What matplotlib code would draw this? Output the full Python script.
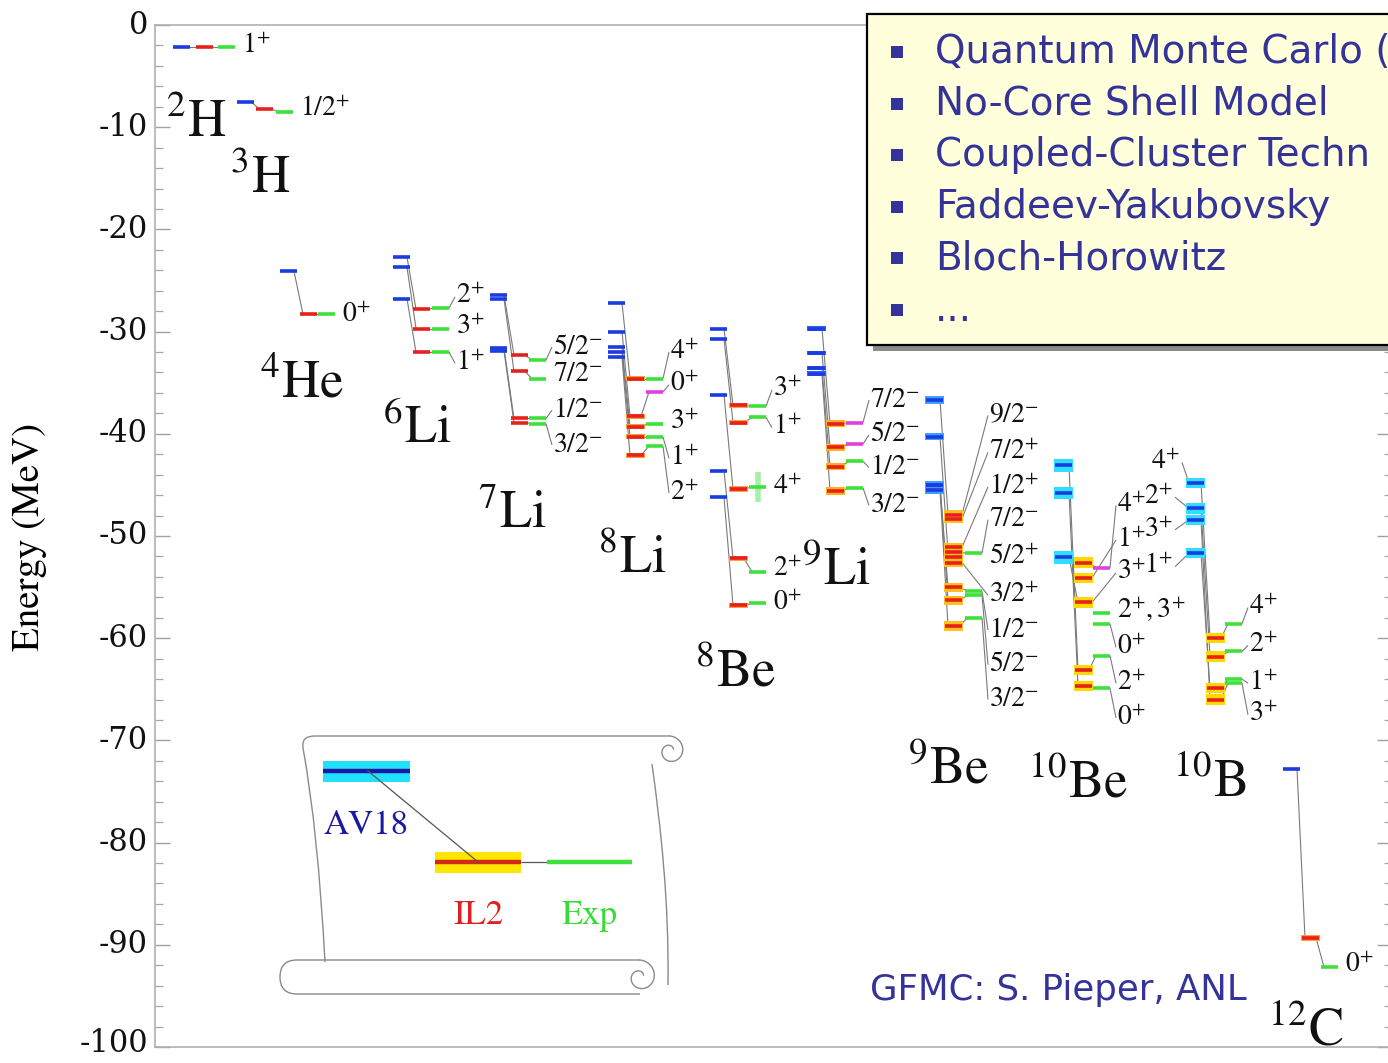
import matplotlib
matplotlib.use('Agg')
import matplotlib.pyplot as plt
from matplotlib.patches import Rectangle, PathPatch
from matplotlib.path import Path
from matplotlib.ticker import MultipleLocator
from matplotlib.transforms import offset_copy
import numpy as np

plt.rcParams['mathtext.fontset'] = 'stix'
plt.rcParams['font.family'] = ['STIXGeneral', 'DejaVu Serif']
plt.rcParams['axes.unicode_minus'] = False

# ---------------------------------------------------------------------------
# Level energies (MeV): AV18, AV18+IL2 and experiment; None = not computed/seen
# ---------------------------------------------------------------------------
H2_states = ['1^{+}']
H2_av18 = [-2.2]
H2_il2 = [-2.2]
H2_exp = [-2.2]

H3_states = ['1/2^{+}']
H3_av18 = [-7.5]
H3_il2 = [-8.2]
H3_exp = [-8.5]

He4_states = ['0^{+}']
He4_av18 = [-24.1]
He4_il2 = [-28.3]
He4_exp = [-28.3]

Li6_states = ['2^{+}', '3^{+}', '1^{+}']
Li6_av18 = [-22.7, -23.7, -26.8]
Li6_il2 = [-27.8, -29.7, -32.0]
Li6_exp = [-27.7, -29.7, -32.0]

Li7_states = ['5/2^{-}', '7/2^{-}', '1/2^{-}', '3/2^{-}']
Li7_av18 = [-26.4, -26.8, -31.6, -31.9]
Li7_il2 = [-32.3, -33.9, -38.5, -38.9]
Li7_exp = [-32.8, -34.6, -38.5, -39.0]

Li8_states = ['4^{+}', '0^{+}', '3^{+}', '1^{+}', '2^{+}']
Li8_av18 = [-27.2, -30.0, -31.5, -32.0, -32.5]
Li8_il2 = [-34.6, -38.3, -39.3, -40.3, -42.1]
Li8_exp = [-34.6, -35.9, -39.0, -40.3, -41.2]

Be8_states = ['3^{+}', '1^{+}', '4^{+}', '2^{+}', '0^{+}']
Be8_av18 = [-29.7, -30.7, -36.2, -43.6, -46.2]
Be8_il2 = [-37.2, -38.9, -45.4, -52.2, -56.8]
Be8_exp = [-37.3, -38.4, -45.2, -53.5, -56.6]

Li9_states = ['7/2^{-}', '5/2^{-}', '1/2^{-}', '3/2^{-}']
Li9_av18 = [-29.7, -32.1, -33.6, -34.1]
Li9_il2 = [-39.0, -41.3, -43.2, -45.6]
Li9_exp = [-38.9, -41.0, -42.7, -45.3]

Be9_states = ['9/2^{-}', '7/2^{+}', '1/2^{+}', '7/2^{-}', '5/2^{+}',
              '3/2^{+}', '1/2^{-}', '5/2^{-}', '3/2^{-}']
Be9_av18 = [-36.7, None, None, -40.3, None, None, -45.0, -45.0, -45.5]
Be9_il2 = [-47.9, -48.3, -51.1, -51.6, -52.1, -52.6, -55.0, -56.3, -58.8]
Be9_exp = [None, None, None, -51.7, None, None, -55.4, -55.8, -58.0]

Be10_states = ['4^{+}', '1^{+}', '3^{+}', '2^{+},3^{+}', '0^{+}', '2^{+}', '0^{+}']
Be10_av18 = [None, None, -52.1, None, None, -43.1, -45.8]
Be10_il2 = [-52.6, -54.1, -56.5, None, None, -63.1, -64.7]
Be10_exp = [-53.1, None, None, -57.5, -58.6, -61.7, -64.9]

B10_states = ['4^{+}', '2^{+}', '1^{+}', '3^{+}']
B10_av18 = [-44.8, -47.3, -51.7, -48.4]
B10_il2 = [-60.0, -61.8, -64.9, -66.0]
B10_exp = [-58.6, -61.3, -64.0, -64.4]

C12_states = ['0^{+}']
C12_av18 = [-72.8]
C12_il2 = [-89.3]
C12_exp = [-92.2]

# energy axis tick values
E_TICKS = [0, -10, -20, -30, -40, -50, -60, -70, -80, -90, -100]

# ---------------------------------------------------------------------------
# Drawing style and layout (x in axis units, label heights in MeV)
# ---------------------------------------------------------------------------
BLUE, RED, GREEN, MAGENTA = '#1a3ce0', '#e8201c', '#3ee03a', '#e040e0'
GRAY = '#7a7a7a'
W_BAR = 17
LAB_FS = 20
NAME_FS = 38

NUCLEI = [
    dict(name='2', elem='H', st=H2_states, av=H2_av18, il=H2_il2, ex=H2_exp,
         x=(173, 196, 218), lab=[-2.05], name_at=(166, -10.95)),
    dict(name='3', elem='H', st=H3_states, av=H3_av18, il=H3_il2, ex=H3_exp,
         x=(237, 256, 276), lab=[-8.3], name_at=(230, -16.4)),
    dict(name='4', elem='He', st=He4_states, av=He4_av18, il=He4_il2, ex=He4_exp,
         x=(280, 300, 318), lab=[-28.4], name_at=(260, -36.4)),
    dict(name='6', elem='Li', st=Li6_states, av=Li6_av18, il=Li6_il2, ex=Li6_exp,
         x=(393, 413, 432), lab=[-26.6, -29.6, -33.1], name_at=(383, -40.9)),
    dict(name='7', elem='Li', st=Li7_states, av=Li7_av18, il=Li7_il2, ex=Li7_exp,
         x=(490, 511, 529), lab=[-31.5, -34.2, -37.7, -41.1], name_at=(478, -49.2)),
    dict(name='8', elem='Li', st=Li8_states, av=Li8_av18, il=Li8_il2, ex=Li8_exp,
         x=(608, 627, 646), lab=[-32.0, -35.2, -38.9, -42.4, -45.8],
         name_at=(598, -53.6), il_halo=('#ff9a30', 0.25), tentative=[1]),
    dict(name='8', elem='Be', st=Be8_states, av=Be8_av18, il=Be8_il2, ex=Be8_exp,
         x=(710, 730, 749), lab=[-35.7, -39.4, -45.2, -53.3, -56.6],
         name_at=(695, -64.7), il_halo=('#ffa040', 0.25), wide=[2]),
    dict(name='9', elem='Li', st=Li9_states, av=Li9_av18, il=Li9_il2, ex=Li9_exp,
         x=(808, 827, 846), lab=[-36.7, -40.1, -43.3, -47.0],
         name_at=(802, -54.8), il_halo=('#ffb020', 0.35), av_halo=('#3060ff', 0.2),
         tentative=[0, 1]),
    dict(name='9', elem='Be', st=Be9_states, av=Be9_av18, il=Be9_il2, ex=Be9_exp,
         x=(926, 945, 965),
         lab=[-38.2, -41.8, -45.2, -48.4, -52.1, -55.8, -59.2, -62.6, -66.0],
         name_at=(908, -74.2), il_halo=('#ffc020', 0.45), av_halo=('#40a0ff', 0.35)),
    dict(name='10', elem='Be', st=Be10_states, av=Be10_av18, il=Be10_il2, ex=Be10_exp,
         x=(1055, 1075, 1093), lab=[-47.0, -50.4, -53.6, -57.2, -60.9, -64.4, -67.8],
         name_at=(1028, -75.6), il_halo=('#ffd800', 0.5), av_halo=('#30dcff', 0.6),
         tentative=[0]),
    dict(name='10', elem='B', st=B10_states, av=B10_av18, il=B10_il2, ex=B10_exp,
         x=(1187, 1207, 1225), lab=[-57.0, -60.7, -64.4, -67.5],
         name_at=(1173, -75.5), il_halo=('#ffd800', 0.5), av_halo=('#30dcff', 0.5),
         left_lab=[(1180, -42.8), (1173, -46.2), (1173, -53.0), (1173, -49.4)]),
    dict(name='12', elem='C', st=C12_states, av=C12_av18, il=C12_il2, ex=C12_exp,
         x=(1283, 1302, 1321), lab=[-92.0], name_at=(1268, -99.9),
         il_halo=('#ffa030', 0.3)),
]

W, H = 1388, 1063
fig = plt.figure(figsize=(W / 100, H / 100), dpi=100)

# main energy axis; x runs in the same units as the canvas
X0, X1, YT, YB = 155, 1392, 25, 1047
ax = fig.add_axes([X0 / W, (H - YB) / H, (X1 - X0) / W, (YB - YT) / H])
ax.set_xlim(X0, X1)
ax.set_ylim(-100, 0)
ax.set_xticks([])
ax.set_yticks(E_TICKS)
ax.yaxis.set_minor_locator(MultipleLocator(2))
ax.tick_params(axis='y', which='major', direction='in', length=11, width=1.0,
               color='#a0a0a0', left=True, right=True, labelleft=False)
ax.tick_params(axis='y', which='minor', direction='in', length=6, width=0.9,
               color='#a8a8a8', left=True, right=True)
for s in ax.spines.values():
    s.set_color('#b0b0b0')
    s.set_linewidth(1.2)

# tick labels; the bottom one is nudged up a little to stay on the canvas
for v in E_TICKS:
    tr = offset_copy(ax.get_yaxis_transform(), fig=fig, x=-7,
                     y=(4 if v == -100 else 0), units='dots')
    ax.text(0, v, '%d' % v, transform=tr, ha='right', va='center', fontsize=22,
            family='DejaVu Serif', color='#111111', clip_on=False)

fig.text(30 / W, 1 - 537 / H, 'Energy (MeV)', rotation=90, ha='center',
         va='center', fontsize=28, family='STIXGeneral')


def bar(x, e, color, halo=None):
    if halo is not None:
        hc, hh = halo
        ax.add_patch(Rectangle((x - 1, e - hh), W_BAR + 2, 2 * hh, fc=hc,
                               ec='none', zorder=3))
    ax.hlines(e, x, x + W_BAR, color=color, lw=2.6, zorder=4)


def link(xa, ea, xb, eb):
    ax.plot([xa, xb], [ea, eb], color=GRAY, lw=0.8, zorder=2,
            solid_capstyle='butt')


for nuc in NUCLEI:
    xa, xi, xe = nuc['x']
    lab_x = xe + W_BAR + 7
    tent = nuc.get('tentative', [])
    for i, st in enumerate(nuc['st']):
        ea, ei, ee = nuc['av'][i], nuc['il'][i], nuc['ex'][i]
        if ea is not None:
            bar(xa, ea, BLUE, nuc.get('av_halo'))
        if ei is not None:
            bar(xi, ei, RED, nuc.get('il_halo'))
        if ee is not None:
            bar(xe, ee, MAGENTA if i in tent else GREEN)
            if i in nuc.get('wide', []):
                ax.vlines(xe + W_BAR / 2, ee - 1.5, ee + 1.5, color='#a8f0a8',
                          lw=4, zorder=3)
        if ea is not None and ei is not None:
            link(xa + W_BAR - 3, ea, xi + 3, ei)
        if ei is not None and ee is not None:
            link(xi + W_BAR - 3, ei, xe + 3, ee)
        # leader from the right-most level to the spin label
        if ee is not None:
            xr, er = xe + W_BAR, ee
        elif ei is not None:
            xr, er = xi + W_BAR, ei
        else:
            xr, er = xa + W_BAR, ea
        lab_e = nuc['lab'][i]
        if abs(lab_e - er) > 0.4:
            link(xr, er, lab_x - 1, lab_e)
        ax.text(lab_x, lab_e, '$' + st + '$', fontsize=LAB_FS, ha='left',
                va='center', color='#111111', zorder=5)
        # labels on the left of the AV18 column
        if 'left_lab' in nuc and ea is not None:
            lx, le = nuc['left_lab'][i]
            ax.text(lx, le, '$' + st + '$', fontsize=LAB_FS, ha='right',
                    va='center', color='#111111', zorder=5)
            link(lx + 2, le, xa + 2, ea)
    nx, ne = nuc['name_at']
    ax.text(nx, ne, '$^{%s}$%s' % (nuc['name'], nuc['elem']), fontsize=NAME_FS,
            ha='left', va='baseline', color='#111111', zorder=5)

# ---------------------------------------------------------------------------
# Overlay in canvas pixels: method box, key scroll, credit
# ---------------------------------------------------------------------------
deco = fig.add_axes([0, 0, 1, 1], zorder=5)
deco.set_xlim(0, W)
deco.set_ylim(H, 0)
deco.axis('off')
deco.patch.set_visible(False)

INK = '#333399'
deco.add_patch(Rectangle((873, 20), 600, 331, fc='#8c8c8c', ec='none', zorder=1))
deco.add_patch(Rectangle((867, 14), 600, 331, fc='#ffffdc', ec='black', lw=1.6,
                         zorder=2))
methods = ['Quantum Monte Carlo (', 'No-Core Shell Model',
           'Coupled-Cluster Techn', 'Faddeev-Yakubovsky',
           'Bloch-Horowitz', '...']
for k, m in enumerate(methods):
    yc = 52 + k * 51.6
    deco.add_patch(Rectangle((891, yc - 6), 12, 12, fc=INK, ec='none', zorder=3))
    deco.text(935, yc, m, fontsize=28, family='DejaVu Sans', color=INK,
              ha='left', va='center', zorder=3)

deco.text(870, 990, 'GFMC: S. Pieper, ANL', fontsize=25.6, family='DejaVu Sans',
          color=INK, ha='left', va='center')


def curve(pts, codes):
    deco.add_patch(PathPatch(Path(pts, codes), fc='none', ec='#8a8a8a', lw=1.0))


def spiral(cx, cy, r0, r1, th0, th1):
    th = np.radians(np.linspace(th0, th1, 120))
    r = np.linspace(r0, r1, th.size)
    deco.plot(cx + r * np.cos(th), cy + r * np.sin(th), color='#8a8a8a', lw=1.0)


M, L, C3, C4 = Path.MOVETO, Path.LINETO, Path.CURVE3, Path.CURVE4
# sheet: left edge, top edge, right edge
curve([(325, 962), (318, 830), (303, 748), (301, 736), (315, 736), (670, 736)],
      [M, C3, C3, C3, C3, L])
spiral(670, 751, 15, 4, -90, 330)
curve([(652, 764), (661, 830), (669, 900), (668, 985)], [M, C4, C4, C4])
# rolled bottom edge
curve([(640, 960), (297, 960), (280, 960), (280, 977), (280, 994), (297, 994),
       (640, 994)], [M, L, C3, C3, C3, C3, L])
spiral(640, 977, 17, 4, -90, 330)

# key
deco.add_patch(Rectangle((323, 761), 87, 21, fc='#22e0ff', ec='none'))
deco.hlines(771, 323, 410, color='#1a1aa0', lw=3.2)
deco.add_patch(Rectangle((435, 852), 86, 21, fc='#ffe600', ec='none'))
deco.hlines(862, 435, 521, color='#d02a10', lw=3.2)
deco.plot([368, 478], [771, 862], color='#555555', lw=0.9)
deco.hlines(862, 521, 547, color='#555555', lw=0.9)
deco.hlines(862, 547, 632, color='#3ee03a', lw=3.2)
deco.text(366, 826, 'AV18', fontsize=25, color='#1a1aa0', ha='center', va='center')
deco.text(478, 916, 'IL2', fontsize=25, color='#e02020', ha='center', va='center')
deco.text(590, 916, 'Exp', fontsize=25, color='#33dd33', ha='center', va='center')

fig.savefig('out.png', dpi=100, facecolor='white')
